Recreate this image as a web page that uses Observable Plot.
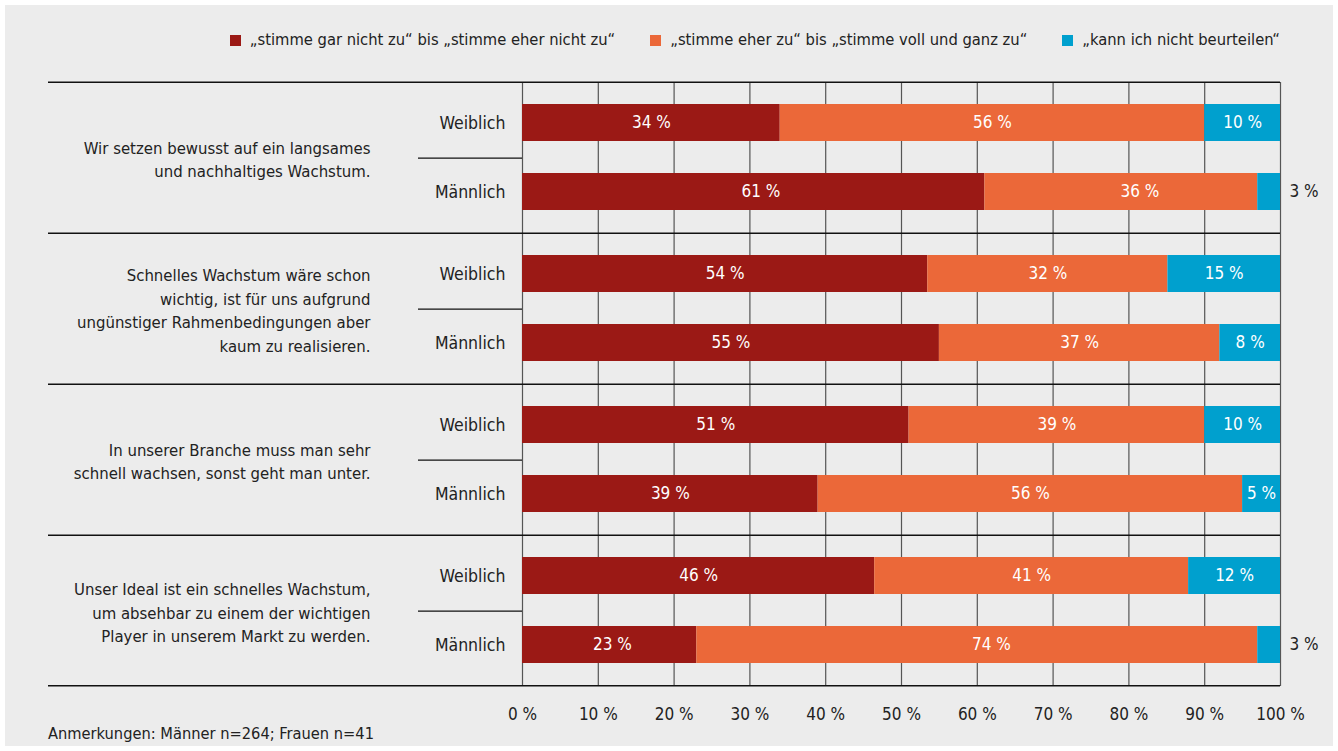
<!DOCTYPE html>
<html><head><meta charset="utf-8">
<script src="https://cdn.jsdelivr.net/npm/d3@7"></script>
<script src="https://cdn.jsdelivr.net/npm/@observablehq/plot@0.6"></script>
<style>
body{margin:0;background:#fff;font-family:"DejaVu Sans Condensed","DejaVu Sans",sans-serif;color:#222;}
#panel{position:absolute;left:5px;top:5px;width:1328px;height:741px;background:#ececec;}
#legend{position:absolute;right:53px;top:24px;display:flex;gap:35px;font-size:16.4px;line-height:22px;}
#legend .it{display:flex;align-items:center;}
#legend .sw{width:11px;height:11px;margin-right:9px;}
#chart{position:absolute;left:0;top:70px;}
#chart svg{display:block;}
#note{position:absolute;left:43px;top:719px;font-size:16.3px;}
</style></head>
<body><div id="panel"><div id="legend"></div><div id="chart"></div><div id="note">Anmerkungen: Männer n=264; Frauen n=41</div></div>
<script>
const categories = ["„stimme gar nicht zu“ bis „stimme eher nicht zu“", "„stimme eher zu“ bis „stimme voll und ganz zu“", "„kann ich nicht beurteilen“"];
const colors = ["#9b1915", "#eb6839", "#00a0ce"];
const statements = [
  "Wir setzen bewusst auf ein langsames\nund nachhaltiges Wachstum.",
  "Schnelles Wachstum wäre schon\nwichtig, ist für uns aufgrund\nungünstiger Rahmenbedingungen aber\nkaum zu realisieren.",
  "In unserer Branche muss man sehr\nschnell wachsen, sonst geht man unter.",
  "Unser Ideal ist ein schnelles Wachstum,\num absehbar zu einem der wichtigen\nPlayer in unserem Markt zu werden."
];
const genders = ["Weiblich", "Männlich"];
// order: statement1 W, statement1 M, statement2 W, ...
const disagree = [34, 61, 54, 55, 51, 39, 46, 23];
const agree    = [56, 36, 32, 37, 39, 56, 41, 74];
const unknown  = [10, 3, 15, 8, 10, 5, 12, 3];
const xTicks = [0, 10, 20, 30, 40, 50, 60, 70, 80, 90, 100];

const series = [disagree, agree, unknown];
const rows = [];
statements.forEach((s, g) => genders.forEach((gd, j) => {
  const i = g * 2 + j;
  series.forEach((vals, c) => rows.push({group: g, gender: gd, cat: categories[c], value: vals[i]}));
}));
const groups = statements.map((s, g) => ({group: g, text: s}));
const pct = v => v + " %";

const W = 1328, H = 652, mt = 5, mb = 40, ml = 517, mr = 53;
const pIn = 0.46, pOut = 0.31;
const facetH = (H - mt - mb) / statements.length;
const s = facetH / (2 - pIn + 2 * pOut);
const bw = s * (1 - pIn);
const topOff = s * pOut + bw / 2;   // from first band centre to facet top

const legend = document.getElementById("legend");
categories.forEach((c, i) => {
  const it = document.createElement("div"); it.className = "it";
  const sw = document.createElement("div"); sw.className = "sw"; sw.style.background = colors[i];
  const t = document.createElement("span"); t.textContent = c;
  it.append(sw, t); legend.append(it);
});

const stackOpts = {x: "value", y: "gender", fy: "group", z: "cat", offset: "normalize", order: categories};
const chart = Plot.plot({
  width: W, height: H, marginTop: mt, marginBottom: mb, marginLeft: ml, marginRight: mr,
  style: {background: "transparent", fontFamily: "DejaVu Sans Condensed, DejaVu Sans, sans-serif", fontSize: "16px", color: "#222"},
  x: {domain: [0, 1], axis: null},
  y: {domain: genders, paddingInner: pIn, paddingOuter: pOut, axis: null},
  fy: {domain: statements.map((d, i) => i), padding: 0, axis: null},
  color: {domain: categories, range: colors},
  marks: [
    Plot.ruleX(xTicks, {x: d => d / 100, stroke: "#555", strokeWidth: 1.2}),
    Plot.barX(rows, Plot.stackX({...stackOpts, fill: "cat"})),
    Plot.text(rows, Plot.stackX({...stackOpts, filter: d => d.value >= 5, text: d => pct(d.value), fill: "white", fontSize: 17})),
    Plot.text(rows.filter(d => d.value < 5), {x: () => 1, y: "gender", fy: "group", text: d => pct(d.value), dx: 9, textAnchor: "start", fill: "#222", fontSize: 17}),
    Plot.axisY({label: null, tickSize: 0, tickPadding: 17, fontSize: 17.5, fill: "#222"}),
    Plot.axisX(xTicks.map(d => d / 100), {label: null, tickSize: 0, tickPadding: 21, tickFormat: d => pct(Math.round(d * 100)), fontSize: 17, fill: "#222"}),
    Plot.ruleY(groups, {fy: "group", y: () => "Weiblich", dy: -topOff, stroke: "#111", strokeWidth: 1.4, insetLeft: -(ml - 43)}),
    Plot.ruleY(groups.slice(-1), {fy: "group", y: () => "Männlich", dy: topOff, stroke: "#111", strokeWidth: 1.4, insetLeft: -(ml - 43)}),
    Plot.ruleY(groups, {fy: "group", y: () => "Weiblich", dy: s / 2, stroke: "#111", strokeWidth: 1.2, insetLeft: -(ml - 413), insetRight: W - ml - mr}),
    Plot.text(groups, {fy: "group", y: () => "Weiblich", text: "text", dy: s / 2, frameAnchor: "left", dx: -152, textAnchor: "end", lineAnchor: "middle", lineHeight: 1.42, fontSize: 16.6, fill: "#222"})
  ]
});
document.getElementById("chart").append(chart);
</script></body></html>
